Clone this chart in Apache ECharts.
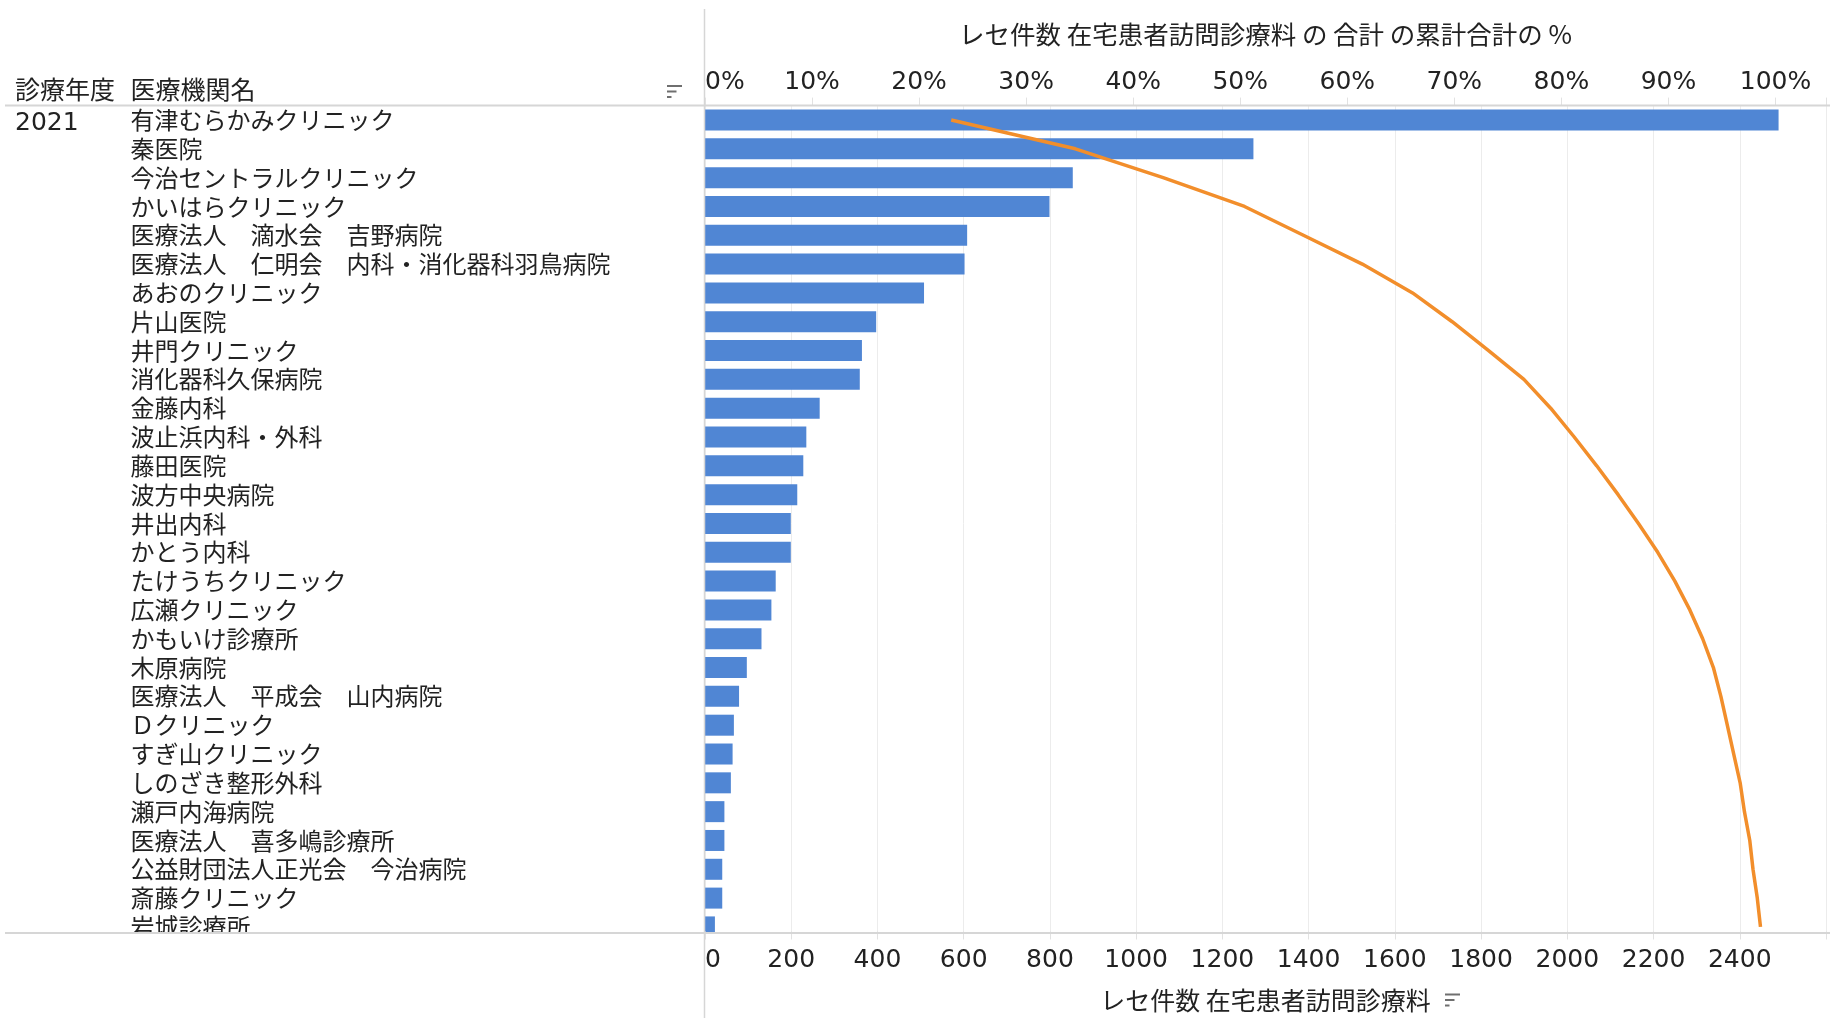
<!DOCTYPE html>
<html>
<head>
<meta charset="utf-8">
<script src="https://cdn.jsdelivr.net/npm/echarts@6/dist/echarts.min.js"></script>
<style>
html,body{margin:0;padding:0;background:#ffffff;}
#chart{width:1830px;height:1018px;}
</style>
</head>
<body>
<div id="chart"></div>
<script>
// ---------------- data ----------------
const yearLabel = '2021';
const headerYear = '診療年度';
const headerName = '医療機関名';
const countTitle = 'レセ件数 在宅患者訪問診療料';
const pctTitle = 'レセ件数 在宅患者訪問診療料 の 合計 の累計合計の %';

const institutions = [
  '有津むらかみクリニック',
  '秦医院',
  '今治セントラルクリニック',
  'かいはらクリニック',
  '医療法人　滴水会　吉野病院',
  '医療法人　仁明会　内科・消化器科羽鳥病院',
  'あおのクリニック',
  '片山医院',
  '井門クリニック',
  '消化器科久保病院',
  '金藤内科',
  '波止浜内科・外科',
  '藤田医院',
  '波方中央病院',
  '井出内科',
  'かとう内科',
  'たけうちクリニック',
  '広瀬クリニック',
  'かもいけ診療所',
  '木原病院',
  '医療法人　平成会　山内病院',
  'Ｄクリニック',
  'すぎ山クリニック',
  'しのざき整形外科',
  '瀬戸内海病院',
  '医療法人　喜多嶋診療所',
  '公益財団法人正光会　今治病院',
  '斎藤クリニック',
  '岩城診療所'
];

const receiptCounts = [
  2490, 1272, 853, 799, 608, 602, 508, 397, 364, 359,
  266, 235, 228, 214, 199, 199, 164, 154, 131, 97,
  79, 67, 64, 60, 45, 45, 40, 40, 23
];

// cumulative % line
const cumulativePct = [
  23.0, 34.6, 42.8, 50.4, 55.9, 61.4, 66.1, 69.8, 73.2, 76.5,
  79.0, 81.2, 83.3, 85.3, 87.2, 89.0, 90.6, 92.0, 93.2, 94.2,
  94.9, 95.5, 96.1, 96.7, 97.1, 97.6, 97.9, 98.3, 98.6
];

const countTicks = [0, 200, 400, 600, 800, 1000, 1200, 1400, 1600, 1800, 2000, 2200, 2400];
const pctTicks = [0, 10, 20, 30, 40, 50, 60, 70, 80, 90, 100];

// ---------------- layout ----------------
const GRID_LEFT = 705;
const GRID_TOP = 105.6;
const GRID_WIDTH = 1121;
const ROW_H = 28.87;
const GRID_HEIGHT = ROW_H * institutions.length;
const VISIBLE_BOTTOM = 933;
const COUNT_MAX = 2600;
const PCT_MAX = 104.72;

const CJK = '"Noto Sans CJK JP", "Noto Sans", sans-serif';
const NUM = '"DejaVu Sans", "Noto Sans CJK JP", sans-serif';
const TXT = '#222222';
const GRID_C = '#ececec';
const RULE_C = '#d6d6d6';

const chart = echarts.init(document.getElementById('chart'), null, {renderer: 'canvas'});

function sortIcon(x, y) {
  return {
    type: 'group', z: 10, children: [
      {type: 'rect', shape: {x: x, y: y, width: 15, height: 2}, style: {fill: '#6f6f6f'}, z: 10},
      {type: 'rect', shape: {x: x, y: y + 5.5, width: 9.5, height: 2}, style: {fill: '#6f6f6f'}, z: 10},
      {type: 'rect', shape: {x: x, y: y + 11, width: 4.5, height: 2}, style: {fill: '#6f6f6f'}, z: 10}
    ]
  };
}

const option = {
  backgroundColor: '#ffffff',
  animation: false,
  grid: {left: GRID_LEFT, top: GRID_TOP, width: GRID_WIDTH, height: GRID_HEIGHT, containLabel: false},
  xAxis: [
    {
      type: 'value', position: 'bottom', min: 0, max: COUNT_MAX, interval: 200,
      offset: VISIBLE_BOTTOM - (GRID_TOP + GRID_HEIGHT),
      z: 6,
      axisLine: {show: false},
      axisTick: {show: true, length: 8, lineStyle: {color: '#e2e2e2'}},
      splitLine: {show: false},
      axisLabel: {
        fontFamily: NUM, fontSize: 25, color: TXT, margin: 17, alignMinLabel: 'left',
        formatter: v => countTicks.indexOf(v) >= 0 ? String(v) : ''
      },
      name: countTitle, nameLocation: 'middle', nameGap: 56.5,
      nameTextStyle: {fontFamily: CJK, fontSize: 25, color: TXT}
    },
    {
      type: 'value', position: 'top', min: 0, max: PCT_MAX, interval: 10,
      axisLine: {show: false},
      axisTick: {show: true, length: 8, lineStyle: {color: '#e2e2e2'}},
      splitLine: {show: false},
      axisLabel: {
        fontFamily: NUM, fontSize: 25, color: TXT, margin: 11, alignMinLabel: 'left',
        formatter: v => pctTicks.indexOf(Math.round(v * 1000) / 1000) >= 0 ? Math.round(v) + '%' : ''
      },
      name: pctTitle, nameLocation: 'middle', nameGap: 58.5,
      nameTextStyle: {fontFamily: CJK, fontSize: 25.5, color: TXT}
    },
    {
      type: 'value', min: 0, max: COUNT_MAX, interval: 200,
      axisLine: {show: false}, axisTick: {show: false}, axisLabel: {show: false},
      splitLine: {show: true, lineStyle: {color: GRID_C, width: 1}}
    }
  ],
  yAxis: [
    {
      type: 'category', data: institutions, inverse: true,
      axisLine: {show: false}, axisTick: {show: false}, splitLine: {show: false},
      axisLabel: {
        interval: 0, align: 'left', margin: GRID_LEFT - 130.5,
        fontFamily: CJK, fontSize: 24, color: TXT
      }
    }
  ],
  series: [
    {
      type: 'bar', name: countTitle, xAxisIndex: 0, yAxisIndex: 0,
      data: receiptCounts, barWidth: 21,
      itemStyle: {color: '#5086d4'}
    },
    {
      type: 'line', name: pctTitle, xAxisIndex: 1, yAxisIndex: 0,
      data: cumulativePct, symbol: 'none', z: 3,
      lineStyle: {width: 3.5, color: '#f28e2b'}
    }
  ],
  graphic: [
    // covers the scrolled-off part of the last row
    {type: 'rect', z: 5, shape: {x: 0, y: VISIBLE_BOTTOM + 1, width: 1830, height: 14}, style: {fill: '#ffffff'}},
    {type: 'line', z: 10, shape: {x1: 5, y1: GRID_TOP, x2: 1830, y2: GRID_TOP}, style: {stroke: RULE_C, lineWidth: 2}},
    {type: 'line', z: 10, shape: {x1: 5, y1: VISIBLE_BOTTOM, x2: 1830, y2: VISIBLE_BOTTOM}, style: {stroke: RULE_C, lineWidth: 2}},
    {type: 'line', z: 10, shape: {x1: 704.5, y1: 9, x2: 704.5, y2: 1018}, style: {stroke: RULE_C, lineWidth: 1.5}},
    {type: 'text', z: 10, x: 15, y: 89, style: {text: headerYear, font: '25px ' + CJK, fill: TXT, verticalAlign: 'middle', textVerticalAlign: 'middle'}},
    {type: 'text', z: 10, x: 130.5, y: 89, style: {text: headerName, font: '25px ' + CJK, fill: TXT, verticalAlign: 'middle', textVerticalAlign: 'middle'}},
    {type: 'text', z: 10, x: 15, y: 123, style: {text: yearLabel, font: '25px ' + NUM, fill: TXT, verticalAlign: 'middle', textVerticalAlign: 'middle'}},
    sortIcon(667, 85),
    sortIcon(1445, 993.5)
  ]
};

chart.setOption(option);
</script>
</body>
</html>
